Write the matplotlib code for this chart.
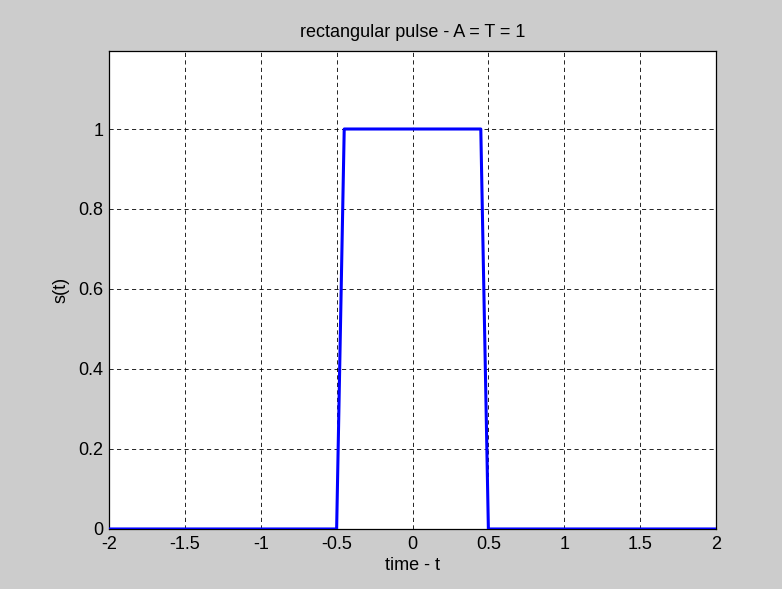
#!/usr/bin/env python3
"""Rectangular pulse, MATLAB-style figure."""

import matplotlib
matplotlib.use("Agg")
import matplotlib.pyplot as plt

t = [-2.0, -0.5, -0.45, 0.45, 0.5, 2.0]
s = [0, 0, 1, 1, 0, 0]

x_ticks = [-2, -1.5, -1, -0.5, 0, 0.5, 1, 1.5, 2]
x_labels = ['-2', '-1.5', '-1', '-0.5', '0', '0.5', '1', '1.5', '2']
y_ticks = [0, 0.2, 0.4, 0.6, 0.8, 1.0]
y_labels = ['0', '0.2', '0.4', '0.6', '0.8', '1']


def main():
    plt.rcParams['font.family'] = ['Liberation Sans', 'DejaVu Sans']
    fs = 13
    fig = plt.figure(figsize=(7.82, 5.89), dpi=100, facecolor='#cccccc')
    ax = fig.add_axes([0.1394, 0.1019, 0.7762, 0.8115])

    ax.plot(t, s, color='#0000ff', linewidth=2.2, zorder=3)

    ax.set_xlim(-2, 2)
    ax.set_ylim(0, 1.195)
    ax.set_xticks(x_ticks)
    ax.set_xticklabels(x_labels, fontsize=fs)
    ax.set_yticks(y_ticks)
    ax.set_yticklabels(y_labels, fontsize=fs)
    ax.tick_params(axis='x', length=0, pad=5)
    ax.tick_params(axis='y', length=0, pad=4)

    ax.grid(True, color='black', linestyle=(0, (5, 4)), linewidth=0.6)
    for sp in ax.spines.values():
        sp.set_linewidth(0.9)

    ax.set_title('rectangular pulse - A = T = 1', fontsize=fs, pad=10)
    ax.set_xlabel('time - t', fontsize=fs, labelpad=3)
    ax.set_ylabel('s(t)', fontsize=fs, labelpad=6)

    fig.savefig('out.png', dpi=100, facecolor=fig.get_facecolor())


if __name__ == "__main__":
    main()
